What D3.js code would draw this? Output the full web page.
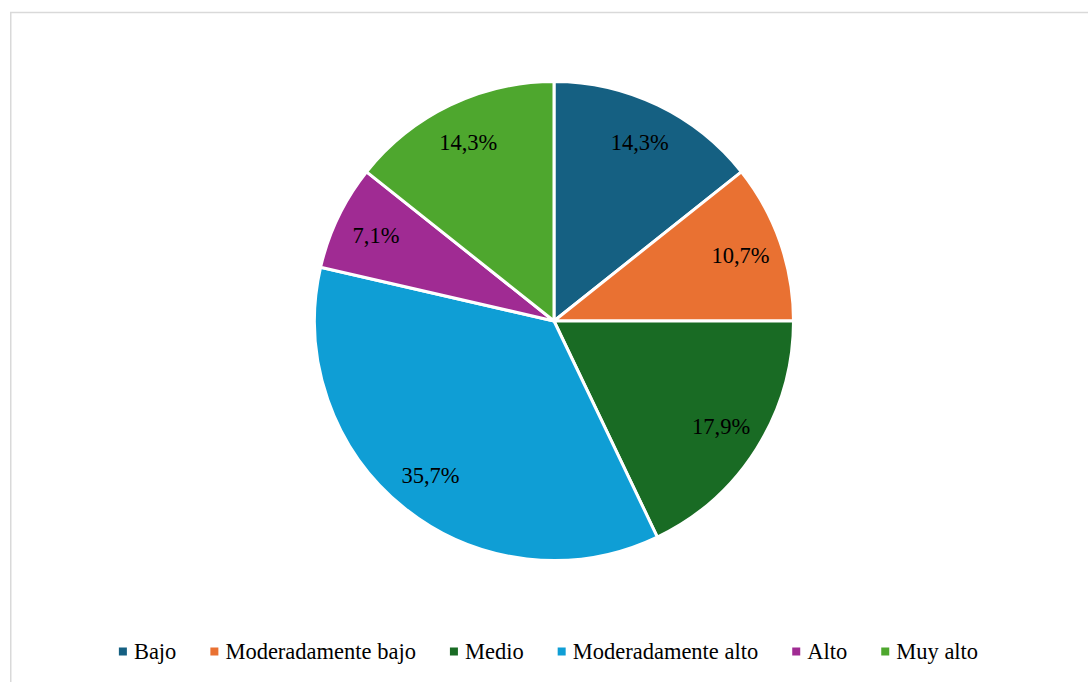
<!DOCTYPE html>
<html><head><meta charset="utf-8">
<script src="https://cdn.jsdelivr.net/npm/d3@7"></script>
<style>html,body{margin:0;padding:0;background:#fff;}svg{display:block;}</style>
</head><body>
<svg id="chart" width="1088" height="682"></svg>
<script>
const categories = ["Bajo", "Moderadamente bajo", "Medio", "Moderadamente alto", "Alto", "Muy alto"];
const values = [14.3, 10.7, 17.9, 35.7, 7.1, 14.3];
const labels = ["14,3%", "10,7%", "17,9%", "35,7%", "7,1%", "14,3%"];
const colors = ["#156082", "#E97132", "#196B24", "#0F9ED5", "#A02B93", "#4EA72E"];

const svg = d3.select("#chart");
const FONT = '"Liberation Serif"';

// frame
svg.append("rect").attr("x", 10.75).attr("y", 12.5).attr("width", 1100).attr("height", 700)
  .attr("fill", "#fff").attr("stroke", "#d9d9d9").attr("stroke-width", 1.5);

const cx = 554, cy = 321, r = 239.5;
const g = svg.append("g").attr("transform", `translate(${cx},${cy})`);
const pie = d3.pie().sort(null).value(d => d);
const arcs = pie(values);
const arc = d3.arc().innerRadius(0).outerRadius(r);
g.selectAll("path.slice").data(arcs).join("path")
  .attr("class", "slice")
  .attr("d", arc)
  .attr("fill", (d, i) => colors[i])
  .attr("stroke", "#fff").attr("stroke-width", 3).attr("stroke-linejoin", "round");

const labelArc = d3.arc().innerRadius(r * 0.825).outerRadius(r * 0.825);
g.selectAll("text.lbl").data(arcs).join("text")
  .attr("class", "lbl")
  .attr("transform", d => { const c = labelArc.centroid(d); return `translate(${c[0]},${c[1]})`; })
  .attr("text-anchor", "middle").attr("dy", "0.33em")
  .style("font-family", FONT).style("font-size", "22.5px").attr("fill", "#000")
  .text((d, i) => labels[i]);

// legend
const leg = svg.append("g");
const items = leg.selectAll("g.item").data(categories).join("g").attr("class", "item");
items.append("rect").attr("width", 8).attr("height", 8).attr("y", -4)
  .attr("fill", (d, i) => colors[i]);
items.append("text").attr("x", 15).attr("dy", "0.33em")
  .style("font-family", FONT).style("font-size", "22.5px").attr("fill", "#000")
  .text(d => d);
const GAP = 34;
let x = 0;
items.each(function() {
  const node = d3.select(this);
  const tw = node.select("text").node().getComputedTextLength();
  node.attr("transform", `translate(${x},0)`);
  x += 15 + tw + GAP;
});
const total = x - GAP;
leg.attr("transform", `translate(${548.5 - total / 2},${651.5})`);
</script>
</body></html>
